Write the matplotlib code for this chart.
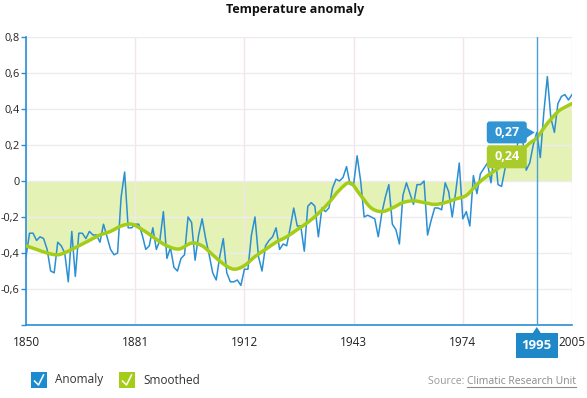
import numpy as np
import matplotlib
matplotlib.use("Agg")
import matplotlib.pyplot as plt
from matplotlib.path import Path
from matplotlib.patches import PathPatch, FancyBboxPatch, Polygon, Rectangle
from matplotlib.lines import Line2D
from matplotlib.transforms import IdentityTransform

# yearly anomaly (1850 .. 2005)
years = list(range(1850, 2006))
anomaly = [
    -0.42, -0.29, -0.29, -0.33, -0.31, -0.32, -0.38, -0.50, -0.51, -0.34,  # 1850s
    -0.36, -0.40, -0.56, -0.28, -0.53, -0.29, -0.29, -0.32, -0.28, -0.30,  # 1860s
    -0.30, -0.34, -0.24, -0.31, -0.38, -0.41, -0.40, -0.09, 0.05, -0.26,   # 1870s
    -0.26, -0.24, -0.24, -0.30, -0.38, -0.36, -0.26, -0.38, -0.33, -0.17,  # 1880s
    -0.43, -0.37, -0.48, -0.50, -0.43, -0.41, -0.20, -0.23, -0.44, -0.30,  # 1890s
    -0.21, -0.32, -0.41, -0.51, -0.55, -0.42, -0.32, -0.51, -0.56, -0.56,  # 1900s
    -0.55, -0.58, -0.49, -0.49, -0.30, -0.20, -0.42, -0.50, -0.36, -0.33,  # 1910s
    -0.31, -0.26, -0.38, -0.35, -0.36, -0.26, -0.15, -0.25, -0.25, -0.39,  # 1920s
    -0.14, -0.12, -0.14, -0.31, -0.15, -0.17, -0.15, -0.04, 0.01, 0.00,    # 1930s
    0.02, 0.08, -0.02, -0.02, 0.14, 0.00, -0.20, -0.19, -0.20, -0.21,      # 1940s
    -0.31, -0.18, -0.09, -0.02, -0.24, -0.27, -0.35, -0.08, -0.01, -0.07,  # 1950s
    -0.13, -0.02, -0.02, 0.00, -0.30, -0.22, -0.15, -0.15, -0.16, -0.01,   # 1960s
    -0.06, -0.20, -0.06, 0.10, -0.21, -0.17, -0.25, 0.03, -0.07, 0.04,     # 1970s
    0.07, 0.10, -0.01, 0.18, -0.02, -0.03, 0.07, 0.18, 0.18, 0.13,         # 1980s
    0.27, 0.23, 0.06, 0.10, 0.20, 0.27, 0.13, 0.38, 0.58, 0.35,            # 1990s
    0.27, 0.43, 0.47, 0.48, 0.45, 0.48,                                    # 2000s
]

# smoothed series, read at a few years along the curve
smooth_years = [1850, 1853, 1856, 1859, 1862, 1865, 1868, 1871, 1874, 1877,
                1880, 1883, 1886, 1889, 1892, 1894, 1897, 1900, 1903, 1906,
                1909, 1912, 1915, 1918, 1921, 1924, 1927, 1930, 1933, 1936,
                1939, 1942, 1945, 1948, 1951, 1954, 1957, 1960, 1963, 1966,
                1969, 1972, 1975, 1978, 1981, 1984, 1987, 1990, 1993, 1995,
                1998, 2001, 2003, 2005]
smooth_values = [-0.36, -0.38, -0.40, -0.41, -0.39, -0.36, -0.33, -0.30, -0.28, -0.25,
                 -0.24, -0.27, -0.31, -0.35, -0.375, -0.375, -0.345, -0.36, -0.41, -0.46,
                 -0.49, -0.47, -0.42, -0.38, -0.34, -0.31, -0.27, -0.23, -0.18, -0.12,
                 -0.05, -0.01, -0.08, -0.15, -0.17, -0.15, -0.12, -0.11, -0.12, -0.13,
                 -0.12, -0.10, -0.08, -0.02, 0.03, 0.07, 0.12, 0.16, 0.21, 0.24,
                 0.32, 0.385, 0.41, 0.43]

xticks = [1850, 1881, 1912, 1943, 1974, 2005]
yticks = [-0.8, -0.6, -0.4, -0.2, 0, 0.2, 0.4, 0.6, 0.8]
hover_year = 1995
hover_anomaly = 0.27
hover_smooth = 0.24

BLUE = "#2a8fd3"
GREEN = "#a5cd17"
FILL = "#e5f2b6"
W, H = 587, 398

plt.rcParams["font.family"] = ["Open Sans", "DejaVu Sans"]


def spline_path(xs, ys):
    """Catmull-Rom curve through the points, as bezier segments"""
    pts = np.column_stack([xs, ys]).astype(float)
    n = len(pts)
    verts, codes = [pts[0]], [Path.MOVETO]
    for i in range(n - 1):
        p0, p1 = pts[max(i - 1, 0)], pts[i]
        p2, p3 = pts[i + 1], pts[min(i + 2, n - 1)]
        verts += [p1 + (p2 - p0) / 6, p2 - (p3 - p1) / 6, p2]
        codes += [Path.CURVE4] * 3
    return verts, codes


def ylabel(v):
    if v == 0:
        return "0"
    if v <= -0.8:
        return ""   # bottom tick has no label
    return f"{v:.1f}".replace(".", ",")


fig = plt.figure(figsize=(W / 100, H / 100), dpi=100)
ax = fig.add_axes([26 / W, 1 - 325 / H, (572 - 26) / W, (325 - 37) / H])
ax.set_xlim(1850, 2005)
ax.set_ylim(-0.8, 0.8)

# area between 0 and the smoothed curve
verts, codes = spline_path(smooth_years, smooth_values)
fill_verts = verts + [(smooth_years[-1], 0), (smooth_years[0], 0), (0, 0)]
fill_codes = codes + [Path.LINETO, Path.LINETO, Path.CLOSEPOLY]
ax.add_patch(PathPatch(Path(fill_verts, fill_codes), fc=FILL, ec="none", zorder=0.3))

ax.plot(years, anomaly, color=BLUE, lw=1.1, zorder=3)
ax.add_patch(PathPatch(Path(verts, codes), fc="none", ec=GREEN, lw=2.5,
                       capstyle="round", zorder=4))

# grid / axes
ax.set_axisbelow(True)
ax.set_xticks(xticks)
ax.set_yticks(yticks)
ax.set_yticklabels([ylabel(v) for v in yticks])
ax.grid(axis="x", color="#f4e4ec", lw=1)
ax.grid(axis="y", color="#ececec", lw=1)
for s in ["top", "right"]:
    ax.spines[s].set_visible(False)
for s in ["left", "bottom"]:
    ax.spines[s].set_color(BLUE)
    ax.spines[s].set_linewidth(1.2)
ax.tick_params(axis="y", length=3.5, width=1, color=BLUE, pad=1, labelsize=7.8, labelcolor="#222")
ax.tick_params(axis="x", length=0, pad=8, labelsize=8.5, labelcolor="#222")

# crosshair at the hovered year
ax.axvline(hover_year, color="#4aa0da", lw=1, zorder=5)

fig.text(0.502, 1 - 10 / H, "Temperature anomaly", ha="center", va="center",
         fontsize=9, fontweight="bold", color="#111")

# tooltips
px, py = ax.transData.transform((hover_year, hover_anomaly))
_, pg = ax.transData.transform((hover_year, hover_smooth))
ident = IdentityTransform()

fig.add_artist(FancyBboxPatch((px - 50, py - 11), 40, 22, boxstyle="round,pad=0,rounding_size=3",
                              fc="#3195d3", ec="none", transform=ident, zorder=10))
fig.add_artist(Polygon([(px - 11, py + 5), (px - 11, py - 6), (px - 2, py)], closed=True,
                       fc="#3195d3", ec="none", transform=ident, zorder=10))
fig.text(px - 30, py, "0,27", transform=ident, ha="center", va="center",
         color="white", fontsize=9, fontweight="bold", zorder=11)

gy = pg - 19
fig.add_artist(FancyBboxPatch((px - 50, gy - 11.5), 40, 23, boxstyle="round,pad=0,rounding_size=3",
                              fc="#a9cc2c", ec="none", transform=ident, zorder=10))
fig.text(px - 30, gy, "0,24", transform=ident, ha="center", va="center",
         color="white", fontsize=9, fontweight="bold", zorder=11)

# year label under the axis
fig.add_artist(Rectangle((px - 21, H - 358), 42, 25, fc="#1e88c9", ec="none",
                         transform=ident, zorder=10))
fig.add_artist(Polygon([(px - 4, H - 333), (px + 4, H - 333), (px, H - 327)], closed=True,
                       fc="#1e88c9", ec="none", transform=ident, zorder=10))
fig.text(px, H - 345.5, str(hover_year), transform=ident, ha="center", va="center",
         color="white", fontsize=9.5, fontweight="bold", zorder=11)


# legend
def legend_item(x, color, label):
    fig.add_artist(Rectangle((x, H - 388), 16, 16, fc=color, ec="none", transform=ident))
    fig.add_artist(Line2D([x + 3.5, x + 7.5, x + 12.5], [H - 381, H - 385, H - 375],
                          color="white", lw=1.1, transform=ident))
    fig.text(x + 24, H - 380, label, transform=ident, ha="left", va="center",
             fontsize=8.5, color="#333")


legend_item(31, "#1c8bd0", "Anomaly")
legend_item(119, GREEN, "Smoothed")

# source with underlined link
renderer = fig.canvas.get_renderer()
link = fig.text(576, H - 382, "Climatic Research Unit", transform=ident, ha="right",
                va="center", fontsize=7.5, color="#8a8a8a")
bb = link.get_window_extent(renderer)
fig.add_artist(Line2D([bb.x0, bb.x1], [bb.y0 + 0.5, bb.y0 + 0.5], color="#8a8a8a",
                      lw=0.8, transform=ident))
fig.text(bb.x0, H - 382, "Source: ", transform=ident, ha="right", va="center",
         fontsize=7.5, color="#999")

fig.savefig("out.png", dpi=100)
